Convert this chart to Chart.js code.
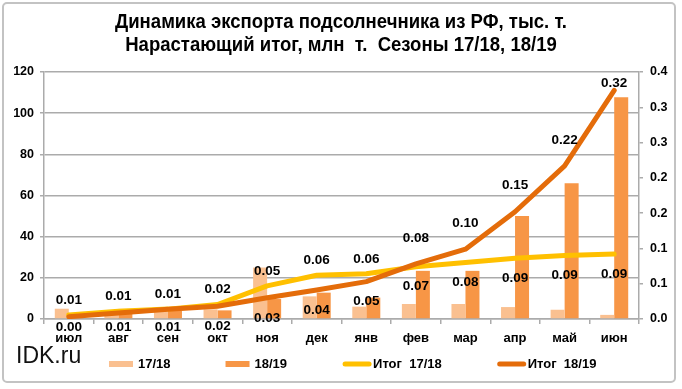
<!DOCTYPE html>
<html>
<head>
<meta charset="utf-8">
<script src="https://cdn.jsdelivr.net/npm/chart.js@4.4.1/dist/chart.umd.min.js"></script>
<style>
  html, body { margin: 0; padding: 0; background: #fff; }
  #wrap { position: relative; width: 682px; height: 389px; }
  canvas { display: block; }
</style>
</head>
<body>
<div id="wrap"><canvas id="c" width="682" height="389"></canvas></div>
<script>
// ---- data ----
const months = ['июл','авг','сен','окт','ноя','дек','янв','фев','мар','апр','май','июн'];
const exports1718 = [5, 4, 3.5, 4.7, 25, 11, 6, 7.3, 7.3, 5.8, 4.5, 2];          // тыс. т
const exports1819 = [1.5, 4.9, 3.9, 4.2, 9.7, 12.8, 10.4, 23.4, 23.4, 50, 66, 107.7]; // тыс. т
const total1718 = [0.0057, 0.011, 0.014, 0.0205, 0.047, 0.062, 0.064, 0.074, 0.080, 0.086, 0.090, 0.092]; // млн т
const total1819 = [0.0033, 0.0085, 0.0137, 0.018, 0.030, 0.041, 0.053, 0.078, 0.099, 0.152, 0.217, 0.324]; // млн т
const leftTicks = [0, 20, 40, 60, 80, 100, 120];
const rightTickLabels = ['0.0','0.1','0.1','0.2','0.2','0.3','0.3','0.4'];
const titleLines = ['Динамика экспорта подсолнечника из РФ, тыс. т.', 'Нарастающий итог, млн  т.  Сезоны 17/18, 18/19'];
const seriesNames = ['17/18', '18/19', 'Итог  17/18', 'Итог  18/19'];
const brand = 'IDK.ru';

const C_LIGHT = '#FAC090', C_ORANGE = '#F79646', C_YELLOW = '#FFC000', C_DARK = '#E46C0A';
const GRID = '#ababab';
const SANS = '"Liberation Sans", Arial, sans-serif';

const framePlugin = {
  id: 'frame',
  beforeDraw(chart) {
    const ctx = chart.ctx;
    ctx.save();
    ctx.fillStyle = '#fff';
    ctx.fillRect(0, 0, chart.width, chart.height);
    ctx.strokeStyle = '#c3c3c3';
    ctx.lineWidth = 2;
    const x = 3, y = 3, w = 672, h = 379, r = 4;
    ctx.beginPath();
    ctx.moveTo(x + r, y);
    ctx.arcTo(x + w, y, x + w, y + h, r);
    ctx.arcTo(x + w, y + h, x, y + h, r);
    ctx.arcTo(x, y + h, x, y, r);
    ctx.arcTo(x, y, x + w, y, r);
    ctx.closePath();
    ctx.stroke();
    // title (narrow bold look: horizontally condensed Liberation Sans Bold)
    ctx.fillStyle = '#000';
    ctx.font = 'bold 20px ' + SANS;
    ctx.textAlign = 'center';
    ctx.textBaseline = 'middle';
    const sx = 452 / ctx.measureText(titleLines[0]).width;
    titleLines.forEach((t, i) => {
      ctx.save();
      ctx.translate(341, 22.5 + i * 23);
      ctx.scale(sx, 1);
      ctx.fillText(t, 0, 0);
      ctx.restore();
    });
    ctx.restore();
  },
  afterDraw(chart) {
    const ctx = chart.ctx;
    ctx.save();
    // brand
    ctx.fillStyle = '#111';
    ctx.font = '23px ' + SANS;
    ctx.textBaseline = 'middle';
    ctx.textAlign = 'left';
    ctx.fillText(brand, 16, 357);
    // legend
    ctx.font = 'bold 13px ' + SANS;
    const cy = 364;
    let x = 109;
    chart.data.datasets.slice().sort((a, b) => a.legendIndex - b.legendIndex).forEach(ds => {
      if (ds.type === 'bar') {
        ctx.fillStyle = ds.backgroundColor;
        ctx.fillRect(x, cy - 3, 24, 6);
        x += 24 + 5;
      } else {
        ctx.strokeStyle = ds.borderColor;
        ctx.lineWidth = 5;
        ctx.lineCap = 'round';
        ctx.beginPath();
        ctx.moveTo(x + 3, cy);
        ctx.lineTo(x + 27, cy);
        ctx.stroke();
        x += 31;
      }
      ctx.fillStyle = '#000';
      ctx.fillText(ds.label, x, cy);
      x += ctx.measureText(ds.label).width + 55;
    });
    ctx.restore();
  }
};

const labelPlugin = {
  id: 'cumLabels',
  afterDatasetsDraw(chart) {
    const ctx = chart.ctx;
    const m1 = chart.getDatasetMeta(chart.data.datasets.findIndex(d => d.key === 't1718'));
    const m2 = chart.getDatasetMeta(chart.data.datasets.findIndex(d => d.key === 't1819'));
    ctx.save();
    ctx.font = 'bold 13.5px ' + SANS;
    ctx.fillStyle = '#000';
    ctx.textAlign = 'center';
    ctx.textBaseline = 'middle';
    months.forEach((_, i) => {
      const p1 = m1.data[i], p2 = m2.data[i];
      const v1 = total1718[i], v2 = total1819[i];
      let upP, upV, upOff, loP, loV;
      if (v1 >= v2) { upP = p1; upV = v1; upOff = 15; loP = p2; loV = v2; }
      else { upP = p2; upV = v2; upOff = 26; loP = p1; loV = v1; }
      const yu = Math.max(upP.y - upOff, 83);
      const yl = Math.min(loP.y + 20, 327);
      ctx.fillText(upV.toFixed(2), upP.x, yu);
      ctx.fillText(loV.toFixed(2), loP.x, yl);
    });
    ctx.restore();
  }
};

new Chart(document.getElementById('c'), {
  data: {
    labels: months,
    datasets: [
      { key: 't1819', type: 'line', label: seriesNames[3], data: total1819, yAxisID: 'y2',
        borderColor: C_DARK, backgroundColor: C_DARK, borderWidth: 5, pointRadius: 0,
        borderCapStyle: 'round', borderJoinStyle: 'round', tension: 0, order: 0, legendIndex: 3 },
      { key: 't1718', type: 'line', label: seriesNames[2], data: total1718, yAxisID: 'y2',
        borderColor: C_YELLOW, backgroundColor: C_YELLOW, borderWidth: 5, pointRadius: 0,
        borderCapStyle: 'round', borderJoinStyle: 'round', tension: 0, order: 1, legendIndex: 2 },
      { key: 'b1718', type: 'bar', label: seriesNames[0], data: exports1718, yAxisID: 'y',
        backgroundColor: C_LIGHT, order: 2, legendIndex: 0,
        barPercentage: 1, categoryPercentage: 0.565 },
      { key: 'b1819', type: 'bar', label: seriesNames[1], data: exports1819, yAxisID: 'y',
        backgroundColor: C_ORANGE, order: 3, legendIndex: 1,
        barPercentage: 1, categoryPercentage: 0.565 }
    ]
  },
  options: {
    responsive: false,
    animation: false,
    devicePixelRatio: 1,
    layout: { padding: { top: 72, left: 0, right: 0, bottom: 0 } },
    plugins: {
      legend: { display: false },
      tooltip: { enabled: false },
      title: { display: false }
    },
    scales: {
      x: {
        grid: { display: true, drawOnChartArea: false, drawTicks: true, tickLength: 5, color: GRID, lineWidth: 1.5, offset: true },
        border: { display: true, color: GRID, width: 1.5 },
        ticks: { color: '#000', font: { family: SANS, size: 13, weight: 'bold' }, padding: 7, maxRotation: 0 },
        afterFit(s) { s.height = 70; }
      },
      y: {
        position: 'left',
        min: leftTicks[0], max: leftTicks[leftTicks.length - 1],
        afterBuildTicks(s) { s.ticks = leftTicks.map(v => ({ value: v })); },
        grid: { color: GRID, lineWidth: 1.5, tickLength: 4 },
        border: { display: true, color: GRID, width: 1.5 },
        ticks: { color: '#000', font: { family: SANS, size: 12.5, weight: 'bold' }, padding: 6 },
        afterFit(s) { s.width = 44; }
      },
      y2: {
        position: 'right',
        min: 0, max: 0.35,
        ticks: {
          stepSize: 0.05, color: '#000', font: { family: SANS, size: 12.5, weight: 'bold' }, padding: 7,
          callback: (v, i) => rightTickLabels[i]
        },
        grid: { drawOnChartArea: false, color: GRID, lineWidth: 1.5, tickLength: 4 },
        border: { display: true, color: GRID, width: 1.5 },
        afterFit(s) { s.width = 43; }
      }
    }
  },
  plugins: [framePlugin, labelPlugin]
});
</script>
</body>
</html>
